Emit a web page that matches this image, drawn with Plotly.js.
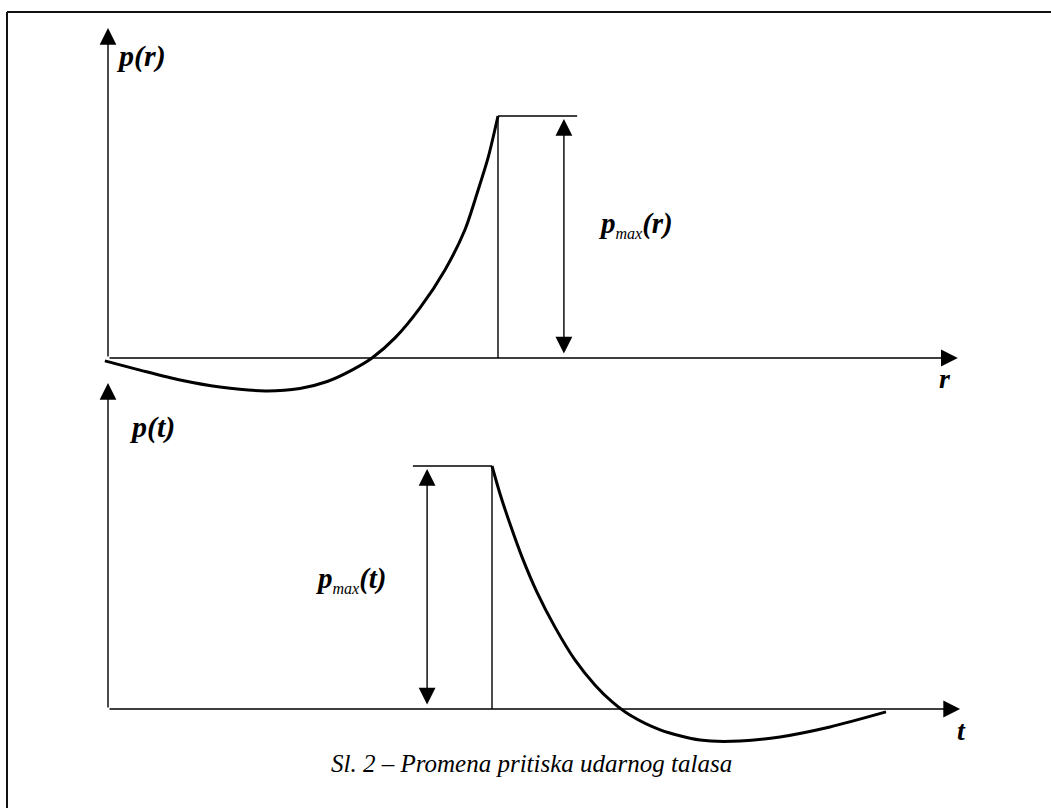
<!DOCTYPE html>
<html>
<head>
<meta charset="utf-8">
<script src="https://cdn.plot.ly/plotly-3.0.1.min.js"></script>
<style>html,body{margin:0;padding:0;background:#fff;}#chart{width:1051px;height:808px;}</style>
</head>
<body>
<div id="chart"></div>
<script>
// ---- Data (dimensionless: peak position = 1, peak pressure = 1) ----
// Upper panel: pressure vs distance p(r)
const rValues = [-0.008, 0.082, 0.185, 0.287, 0.403, 0.492, 0.562, 0.623, 0.677, 0.736, 0.800, 0.864, 0.915, 0.949, 0.975, 1.0];
const pOfR    = [-0.012, -0.050, -0.091, -0.120, -0.136, -0.126, -0.097, -0.052, 0.0, 0.083, 0.207, 0.364, 0.529, 0.694, 0.830, 1.0];
// Lower panel: pressure vs time p(t)
const tValues = [1.0, 1.021, 1.047, 1.078, 1.117, 1.164, 1.216, 1.268, 1.313, 1.359, 1.438, 1.542, 1.646, 1.75, 1.880, 2.026];
const pOfT    = [1.0, 0.885, 0.761, 0.626, 0.481, 0.337, 0.202, 0.099, 0.029, -0.025, -0.086, -0.128, -0.132, -0.115, -0.074, -0.012];

const peakR = 1.0, peakT = 1.0, pMax = 1.0;
const rAxisEnd = 2.179, pAxisEndTop = 1.364;
const tAxisEnd = 2.219, pAxisEndBot = 1.342;
const topFlagEnd = 1.203, topArrowAt = 1.169;
const botFlagStart = 0.794, botArrowAt = 0.831;

const subMax = '<sub><span style="font-size:16px;font-weight:normal">max</span></sub>';
const labels = {
  pr: 'p(r)', pmaxr: 'p' + subMax + '(r)', r: 'r',
  pt: 'p(t)', pmaxt: 'p' + subMax + '(t)', t: 't',
  caption: 'Sl. 2 – Promena pritiska udarnog talasa'
};

// ---- Layout helpers: map a data origin to pixel positions ----
const W = 1051, H = 808;
function xRange(px0, pxPerUnit) { return [(0 - px0) / pxPerUnit, (W - px0) / pxPerUnit]; }
function yRange(py0, pxPerUnit) { return [(py0 - H) / pxPerUnit, py0 / pxPerUnit]; }

const FONT = "'Liberation Serif', 'Times New Roman', Times, serif";
const lineCol = '#000';

const traces = [
  {x: rValues, y: pOfR, xaxis: 'x', yaxis: 'y', mode: 'lines', line: {color: lineCol, width: 3, shape: 'spline', smoothing: 0.8}, hoverinfo: 'skip'},
  {x: tValues, y: pOfT, xaxis: 'x2', yaxis: 'y2', mode: 'lines', line: {color: lineCol, width: 3, shape: 'spline', smoothing: 0.8}, hoverinfo: 'skip'}
];

const hidden = {showgrid: false, zeroline: false, showticklabels: false, showline: false, ticks: '', fixedrange: true};

function axisArrow(xref, yref, x, y, ax, ay) {
  return {xref: xref, yref: yref, axref: xref, ayref: yref, x: x, y: y, ax: ax, ay: ay, text: '',
          showarrow: true, arrowhead: 2, arrowsize: 2.4, arrowwidth: 1.4, arrowcolor: lineCol, standoff: 0, startstandoff: 0};
}
function dblArrow(xref, yref, x, y0, y1) {
  return {xref: xref, yref: yref, axref: xref, ayref: yref, x: x, y: y1, ax: x, ay: y0, text: '',
          showarrow: true, arrowhead: 2, startarrowhead: 2, arrowside: 'end+start', arrowsize: 2.4, startarrowsize: 2.4,
          arrowwidth: 1.4, arrowcolor: lineCol, standoff: 3, startstandoff: 3};
}
function label(xref, yref, x, y, text, size, anchor) {
  return {xref: xref, yref: yref, x: x, y: y, text: '<b><i>' + text + '</i></b>', showarrow: false,
          xanchor: anchor || 'left', yanchor: 'middle', font: {family: FONT, size: size, color: '#000'}};
}

const layout = {
  width: W, height: H,
  margin: {l: 0, r: 0, t: 0, b: 0},
  paper_bgcolor: '#fff', plot_bgcolor: 'rgba(0,0,0,0)',
  showlegend: false,
  font: {family: FONT},
  xaxis: Object.assign({domain: [0, 1], range: xRange(108, 390), anchor: 'y'}, hidden),
  yaxis: Object.assign({domain: [0, 1], range: yRange(358, 242), anchor: 'x'}, hidden),
  xaxis2: Object.assign({domain: [0, 1], range: xRange(108, 384), anchor: 'y2'}, hidden),
  yaxis2: Object.assign({domain: [0, 1], range: yRange(709, 243), anchor: 'x2'}, hidden),
  shapes: [
    // frame
    {type: 'line', xref: 'paper', yref: 'paper', x0: 7 / W, x1: 1, y0: 1 - 12 / H, y1: 1 - 12 / H, line: {color: '#111', width: 2}},
    {type: 'line', xref: 'paper', yref: 'paper', x0: 7 / W, x1: 7 / W, y0: 1 - 12 / H, y1: 0, line: {color: '#111', width: 2}},
    // upper panel markers
    {type: 'line', xref: 'x', yref: 'y', x0: peakR, x1: peakR, y0: 0, y1: pMax, line: {color: lineCol, width: 1.4}},
    {type: 'line', xref: 'x', yref: 'y', x0: peakR, x1: topFlagEnd, y0: pMax, y1: pMax, line: {color: lineCol, width: 1.4}},
    // lower panel markers
    {type: 'line', xref: 'x2', yref: 'y2', x0: peakT, x1: peakT, y0: 0, y1: pMax, line: {color: lineCol, width: 1.4}},
    {type: 'line', xref: 'x2', yref: 'y2', x0: botFlagStart, x1: peakT, y0: pMax, y1: pMax, line: {color: lineCol, width: 1.4}}
  ],
  annotations: [
    axisArrow('x', 'y', 0, pAxisEndTop, 0, 0),
    axisArrow('x', 'y', rAxisEnd, 0, 0, 0),
    axisArrow('x2', 'y2', 0, pAxisEndBot, 0, 0),
    axisArrow('x2', 'y2', tAxisEnd, 0, 0, 0),
    dblArrow('x', 'y', topArrowAt, 0, pMax),
    dblArrow('x2', 'y2', botArrowAt, 0, pMax),
    label('x', 'y', 0.015, 1.25, labels.pr, 30),
    label('x', 'y', 1.25, 0.55, labels.pmaxr, 29),
    label('x', 'y', 2.125, -0.085, labels.r, 28),
    label('x2', 'y2', 0.05, 1.16, labels.pt, 30),
    label('x2', 'y2', 0.535, 0.535, labels.pmaxt, 29),
    label('x2', 'y2', 2.205, -0.09, labels.t, 28),
    {xref: 'paper', yref: 'paper', x: 531 / W, y: 1 - 763 / H, text: '<i>' + labels.caption + '</i>', showarrow: false,
     xanchor: 'center', yanchor: 'middle', font: {family: FONT, size: 25, color: '#000'}}
  ]
};

Plotly.newPlot('chart', traces, layout, {staticPlot: true, displayModeBar: false});
</script>
</body>
</html>
